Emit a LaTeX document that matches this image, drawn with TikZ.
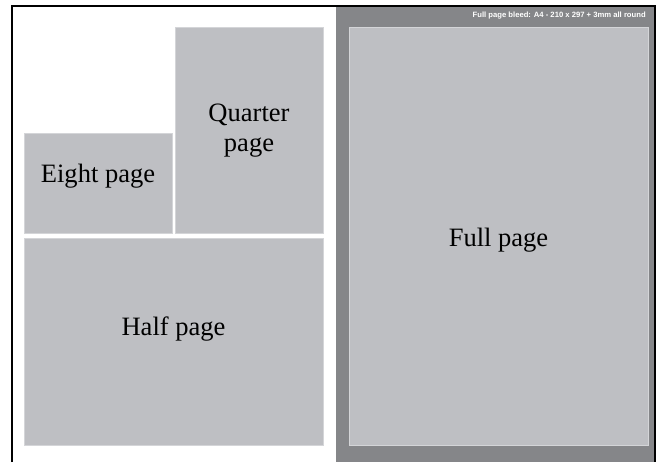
\documentclass[tikz,border=0pt]{standalone}
\usepackage{fontspec}
\setmainfont{Liberation Serif}
\newfontfamily\headfont{Liberation Sans}
\usetikzlibrary{positioning}
\definecolor{adgrey}{HTML}{BEBFC3}
\definecolor{bleedgrey}{HTML}{858689}
\definecolor{adedge}{HTML}{D4D5D8}

\begin{document}
\begin{tikzpicture}[x=0.75pt, y=-0.75pt,
    adbox/.style={fill=adgrey, draw=adedge, line width=0.4pt},
    adlabel/.style={font=\fontsize{19.9}{22.5}\selectfont, align=center, inner sep=0pt},
    bleedlabel/.style={font=\headfont\bfseries\fontsize{5.75}{7}\selectfont, text=white, inner sep=0pt}]
  \useasboundingbox (0,0) rectangle (664,462);

  \fill[bleedgrey] (336,6) rectangle (655,462);

  \draw[adbox] (175,27) rectangle (323,233);
  \draw[adbox] (24,133) rectangle (172,233);
  \draw[adbox] (24,238) rectangle (323,445);
  \draw[adbox] (349,27) rectangle (648,445);

  \node[adlabel] (quarter) at (249,131) {Quarter\\page};
  \node[adlabel] (eighth) at (98,176) {Eight page};
  \node[adlabel] (half) at (173.5,329) {Half page};
  \node[adlabel] (full) at (498.5,240) {Full page};
  \node[bleedlabel, anchor=east] (bleed) at (646,16) {Full page bleed: A4 - 210 x 297 + 3mm all round};

  \draw[line width=1.5pt] (12,462) -- (12,6) -- (655,6) -- (655,462);
\end{tikzpicture}
\end{document}
